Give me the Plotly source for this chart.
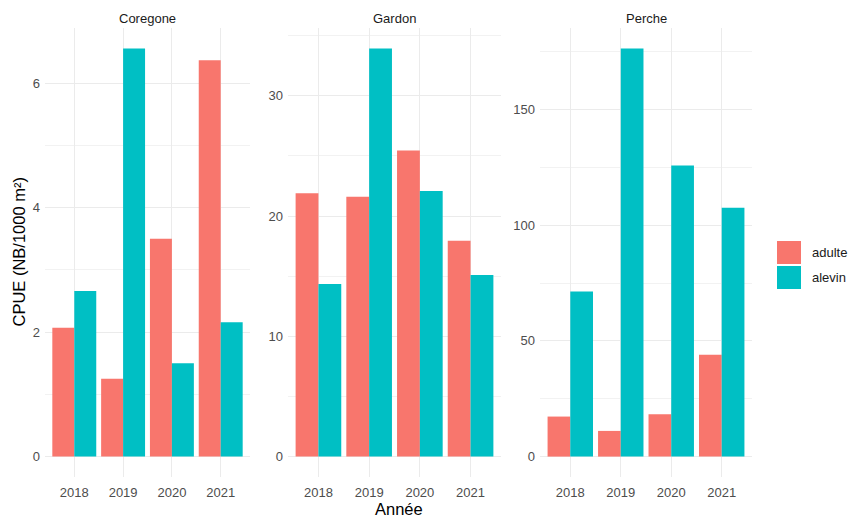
import plotly.graph_objects as go
from plotly.subplots import make_subplots

years = ["2018", "2019", "2020", "2021"]
species = ["Coregone", "Gardon", "Perche"]
adulte = {
    "Coregone": [2.07, 1.25, 3.50, 6.37],
    "Gardon": [21.9, 21.6, 25.45, 17.95],
    "Perche": [17.3, 11.1, 18.3, 44.0],
}
alevin = {
    "Coregone": [2.66, 6.56, 1.50, 2.16],
    "Gardon": [14.35, 33.94, 22.08, 15.1],
    "Perche": [71.3, 176.4, 125.8, 107.5],
}
ytick_step = {"Coregone": 2, "Gardon": 10, "Perche": 50}
groups = ["adulte", "alevin"]

col_adulte = "#F8766D"
col_alevin = "#00BFC4"
font_family = "Liberation Sans, Arial, sans-serif"

W, H = 850, 517
ml, mt = 45, 28
mr = W - 752
mb = H - 477
pw = W - ml - mr
ph = H - mt - mb
panels_px = [(45, 250), (288, 501), (540, 752)]
domains = [((a - ml) / pw, (b - ml) / pw) for a, b in panels_px]


def px_x(x):
    return (x - ml) / pw


def px_y(y):
    return 1 - (y - mt) / ph


fig = make_subplots(rows=1, cols=3, horizontal_spacing=0.05)

for i, sp in enumerate(species):
    c = i + 1
    fig.add_trace(go.Bar(x=years, y=adulte[sp], name="adulte", marker_color=col_adulte,
                         marker_line_width=0, offsetgroup="a", showlegend=False), row=1, col=c)
    fig.add_trace(go.Bar(x=years, y=alevin[sp], name="alevin", marker_color=col_alevin,
                         marker_line_width=0, offsetgroup="b", showlegend=False), row=1, col=c)
    ymax = max(max(adulte[sp]), max(alevin[sp]))
    step = ytick_step[sp]
    fig.update_yaxes(range=[-0.05 * ymax, 1.05 * ymax], dtick=step, tick0=0,
                     domain=[0, 1], automargin=False,
                     showgrid=True, gridcolor="#EBEBEB", gridwidth=1,
                     minor=dict(dtick=step / 2, tick0=0, showgrid=True, gridcolor="#F2F2F2", gridwidth=0.6),
                     zeroline=False, showline=False, ticks="",
                     tickfont=dict(family=font_family, size=13, color="#4D4D4D"),
                     ticklabelstandoff=4,
                     row=1, col=c)
    fig.update_xaxes(type="category", range=[-0.6, 3.6], domain=list(domains[i]),
                     automargin=False,
                     showgrid=True, gridcolor="#EBEBEB", gridwidth=1,
                     zeroline=False, showline=False, ticks="",
                     tickfont=dict(family=font_family, size=13, color="#4D4D4D"),
                     ticklabelstandoff=6,
                     row=1, col=c)
    fig.add_annotation(text=sp, xref="paper", yref="paper",
                       x=(domains[i][0] + domains[i][1]) / 2, y=1, yshift=10,
                       xanchor="center", yanchor="middle",
                       showarrow=False, font=dict(family=font_family, size=13, color="#1A1A1A"))

fig.add_annotation(text="Année", xref="paper", yref="paper", x=0.5, y=0, yshift=-32,
                   xanchor="center", yanchor="middle",
                   showarrow=False, font=dict(family=font_family, size=16.5, color="black"))
fig.add_annotation(text="CPUE (NB/1000 m²)", xref="paper", yref="paper", x=0, y=0.5,
                   xshift=-27, textangle=-90, xanchor="center", yanchor="middle", showarrow=False,
                   font=dict(family=font_family, size=16.5, color="black"))

# legend (ggplot style keys)
key_top = [241, 266]
for g, col, top in zip(groups, [col_adulte, col_alevin], key_top):
    fig.add_shape(type="rect", xref="paper", yref="paper",
                  x0=px_x(777), x1=px_x(801), y0=px_y(top + 23), y1=px_y(top),
                  fillcolor=col, line_width=0, layer="above")
    fig.add_annotation(text=g, xref="paper", yref="paper", x=px_x(810), y=px_y(top + 11.5),
                       xanchor="left", yanchor="middle", showarrow=False,
                       font=dict(family=font_family, size=13, color="#1A1A1A"))

fig.update_layout(
    width=W, height=H,
    margin=dict(l=ml, r=mr, t=mt, b=mb, autoexpand=False),
    barmode="group", bargap=0.1, bargroupgap=0,
    plot_bgcolor="white", paper_bgcolor="white",
    showlegend=False,
)

fig.write_html("out.html",
               config={"displayModeBar": False},
               post_script="document.body.style.margin='0';document.body.style.overflow='hidden';")
